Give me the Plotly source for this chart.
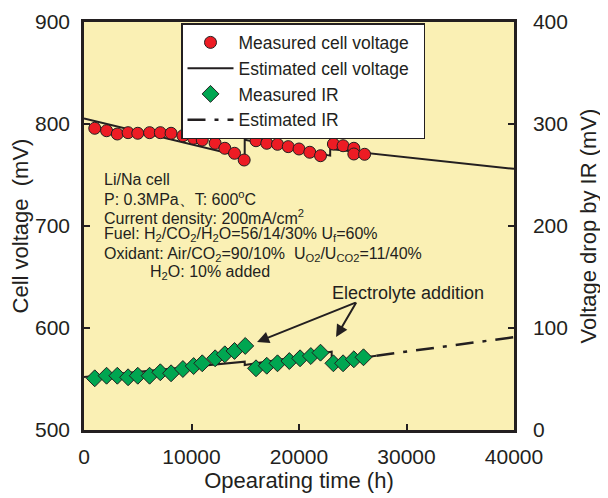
import plotly.graph_objects as go

# ---- data ----
v_hours = [1000, 2100, 3100, 4100, 5000, 6100, 7100, 8100, 9200, 10200, 11000, 12200, 13100, 14000, 14900,
           16000, 17000, 18000, 19000, 20000, 21000, 22000, 23200, 24100, 25100, 25100, 26100]
v_meas = [795.8, 793.4, 790.2, 791.5, 790.9, 791.5, 791.5, 790.9, 788.5, 786.0, 784.3, 781.1, 776.2, 771.3, 764.7,
          783.6, 781.1, 780.1, 777.8, 775.5, 772.3, 768.9, 780.4, 778.7, 776.2, 770.6, 770.3]

v_est_hours = [0, 14950, 14950, 22900, 22900, 40000]
v_est = [805.5, 767.5, 784.5, 769.0, 775.5, 756.0]

ir_hours = [1000, 2100, 3100, 4100, 5000, 6100, 7100, 8100, 9200, 10200, 11000, 12200, 13100, 14000, 15000,
            16000, 17000, 18000, 19100, 20100, 21100, 22000, 23200, 24100, 25100, 26000]
ir_meas = [50.7, 53.2, 53.2, 51.7, 53.2, 53.2, 56.6, 55.6, 59.8, 62.7, 65.4, 70.3, 74.2, 77.5, 82.4,
           60.5, 63.0, 65.4, 67.6, 70.3, 72.5, 75.8, 65.4, 65.4, 69.3, 71.3]

ir_est_solid_hours = [0, 14950, 14950, 23040, 23040, 27200]
ir_est_solid = [52.0, 67.0, 63.7, 76.8, 67.0, 72.9]
ir_est_dash_hours = [27200, 40000]
ir_est_dash = [72.9, 91.0]

x_ticks = [0, 10000, 20000, 30000, 40000]
y_ticks = [500, 600, 700, 800, 900]
y2_ticks = [0, 100, 200, 300, 400]

notes = [
    "Li/Na cell",
    "P: 0.3MPa、T: 600<sup>o</sup>C",
    "Current density: 200mA/cm<sup>2</sup>",
    "Fuel: H<sub>2</sub>/CO<sub>2</sub>/H<sub>2</sub>O=56/14/30% U<sub>f</sub>=60%",
    "Oxidant: Air/CO<sub>2</sub>=90/10%  U<sub>O2</sub>/U<sub>CO2</sub>=11/40%",
    "H<sub>2</sub>O: 10% added",
]

# ---- styles ----
DARK = "#231F20"
RED = "#ED1C24"
GREEN = "#00A651"
BG = "#FAF0B4"
FONT = "Liberation Sans, Arial, Helvetica, sans-serif"
PAD = "\u00a0\u00a0"

fig = go.Figure()
fig.add_trace(go.Scatter(x=ir_est_solid_hours, y=ir_est_solid, mode="lines", showlegend=False, yaxis="y2",
                         line=dict(color=DARK, width=2)))
fig.add_trace(go.Scatter(x=ir_est_dash_hours, y=ir_est_dash, mode="lines", name="Estimated IR", yaxis="y2",
                         legendrank=4, line=dict(color=DARK, width=2.5, dash="18px,9px,4px,9px")))
fig.add_trace(go.Scatter(x=v_est_hours, y=v_est, mode="lines", name="Estimated cell voltage" + PAD,
                         legendrank=2, line=dict(color=DARK, width=2)))
fig.add_trace(go.Scatter(x=v_hours, y=v_meas, mode="markers", name="Measured cell voltage", legendrank=1,
                         marker=dict(symbol="circle", size=12, color=RED, line=dict(color=DARK, width=1))))
fig.add_trace(go.Scatter(x=ir_hours, y=ir_meas, mode="markers", name="Measured IR", yaxis="y2", legendrank=3,
                         marker=dict(symbol="diamond", size=13, color=GREEN, line=dict(color=DARK, width=1))))

# plot area on screen: x 84..514, y 22..430 (page has an 8px body margin)
annotations = []
line_y = [179, 197.5, 216.5, 235, 254, 272.5]
for i, (txt, py) in enumerate(zip(notes, line_y)):
    px = 102 if i < 5 else 148
    annotations.append(dict(text=txt, xref="paper", yref="paper",
                            x=(px - 84) / 430, y=(430 - py) / 408, xanchor="left", yanchor="middle",
                            showarrow=False, font=dict(size=16, color=DARK, family=FONT)))
annotations.append(dict(text="Electrolyte addition", x=30150, y=634, xref="x", yref="y",
                        showarrow=False, font=dict(size=18, color=DARK, family=FONT)))
annotations.append(dict(text="", x=16100, y=586.3, xref="x", yref="y", showarrow=True,
                        ax=100, ay=-40, arrowhead=2, arrowsize=1.2, arrowwidth=2, arrowcolor=DARK))
annotations.append(dict(text="", x=23450, y=591.2, xref="x", yref="y", showarrow=True,
                        ax=21, ay=-36, arrowhead=2, arrowsize=1.2, arrowwidth=2, arrowcolor=DARK))

fig.update_layout(
    width=600, height=490,
    margin=dict(l=76, r=94, t=14, b=68, autoexpand=False),
    paper_bgcolor="white", plot_bgcolor=BG,
    font=dict(family=FONT, color=DARK, size=21),
    showlegend=True,
    legend=dict(x=(181 - 84) / 430, y=(430 - 23) / 408, xanchor="left", yanchor="top",
                bgcolor="white", bordercolor=DARK, borderwidth=1.5, traceorder="normal",
                font=dict(size=17.5, color=DARK, family=FONT), tracegroupgap=0, itemwidth=46),
    xaxis=dict(range=[0, 40000], tickvals=x_ticks, ticktext=[str(t) for t in x_ticks],
               ticks="inside", ticklen=6, tickwidth=1.5, tickcolor=DARK, automargin=False,
               showline=True, linecolor=DARK, linewidth=2.5, mirror=True, showgrid=False, zeroline=False,
               title=dict(text="Opearating time (h)", font=dict(size=22), standoff=6),
               ticklabelstandoff=6),
    yaxis=dict(range=[500, 900], tickvals=y_ticks, ticks="inside", ticklen=6, tickwidth=1.5, tickcolor=DARK,
               showline=True, linecolor=DARK, linewidth=2.5, showgrid=False, zeroline=False, automargin=False,
               title=dict(text="Cell voltage  (mV)", font=dict(size=22), standoff=6),
               ticklabelstandoff=7),
    yaxis2=dict(range=[0, 400], tickvals=y2_ticks, overlaying="y", side="right", anchor="x",
                ticks="inside", ticklen=6, tickwidth=1.5, tickcolor=DARK, automargin=False,
                showline=True, linecolor=DARK, linewidth=2.5, showgrid=False, zeroline=False,
                title=dict(text="Voltage drop by IR (mV)", font=dict(size=22), standoff=14),
                ticklabelstandoff=12),
    annotations=annotations,
)

fig.write_html("out.html")
